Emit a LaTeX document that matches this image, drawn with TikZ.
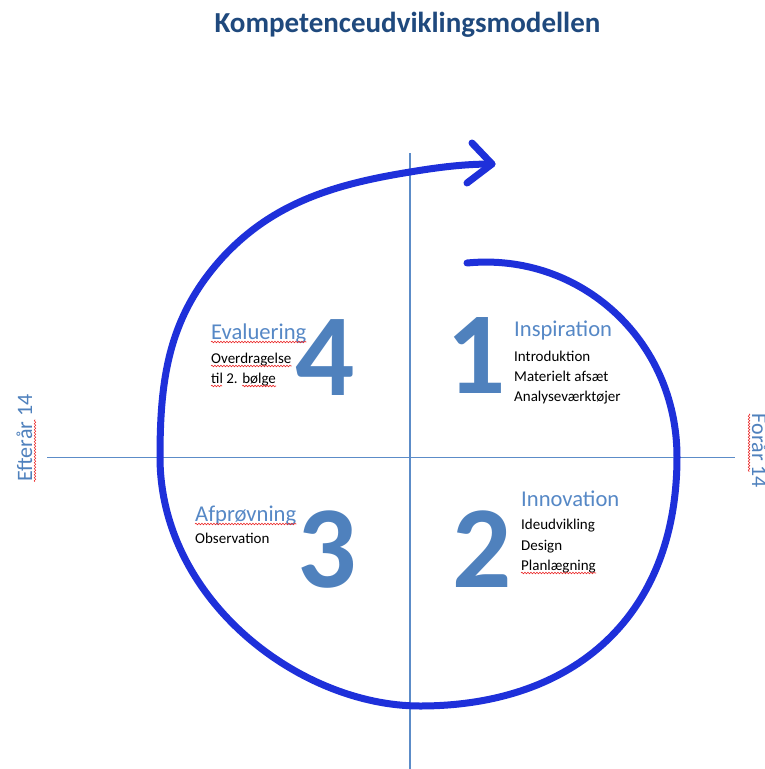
\documentclass[tikz,border=0pt]{standalone}
\usepackage{fontspec}
\setmainfont{Carlito}
\usetikzlibrary{decorations.pathmorphing,calc}

\definecolor{titleblue}{RGB}{31,73,125}
\definecolor{numblue}{RGB}{79,129,189}
\definecolor{headblue}{RGB}{86,136,198}
\definecolor{axisblue}{RGB}{92,140,200}
\definecolor{spiralblue}{RGB}{30,48,218}
\definecolor{spellred}{RGB}{235,40,40}

\tikzset{
  axisline/.style={draw=axisblue, line width=1.1pt},
  spiral/.style={draw=spiralblue, line width=7pt, line cap=round, line join=round},
  titletext/.style={anchor=base, inner sep=0pt, text=titleblue,
    font=\fontsize{29}{33}\selectfont\bfseries},
  heading/.style={anchor=base west, inner sep=0pt, text=headblue,
    font=\fontsize{22.6}{26}\selectfont},
  bodytext/.style={anchor=base west, inner sep=0pt, text=black,
    font=\fontsize{15}{18}\selectfont},
  bignum/.style={anchor=base, inner sep=0pt, text=numblue,
    font=\fontsize{117}{120}\selectfont\bfseries},
  sidetext/.style={anchor=base, inner sep=0pt, text=numblue,
    font=\fontsize{22}{26}\selectfont},
  squiggle/.style={draw=spellred, line width=0.6pt, decorate,
    decoration={snake, amplitude=0.8pt, segment length=3pt}},
}

\begin{document}
\begin{tikzpicture}[x=1pt,y=-1pt]
\useasboundingbox (0,0) rectangle (764,769);
\fill[white] (0,0) rectangle (764,769);

% title
\node[titletext] (title) at (407.5,32) {Kompetenceudviklingsmodellen};

% axes
\coordinate (vtop) at (410,153);
\coordinate (vbot) at (410,769);
\coordinate (hleft) at (47,457.5);
\coordinate (hright) at (735,457.5);
\draw[axisline] (vtop) -- (vbot);
\draw[axisline] (hleft) -- (hright);

% side labels
\node[sidetext, rotate=90] (autumn) at (32,438) {Efterår 14};
\node[sidetext, rotate=-90] (spring) at (752,451) {Forår 14};

% spiral: start inside quadrant 1, one turn clockwise, open arrowhead at the end
\coordinate (start) at (467,263);
\coordinate (east) at (677,457);
\coordinate (south) at (420,706);
\coordinate (west) at (160,457);
\coordinate (nw) at (223,257);
\coordinate (north) at (410,172);
\coordinate (tip) at (492,164);
\coordinate (barbA) at (472,143);
\coordinate (barbB) at (467,183);
\draw[spiral] (start)
  .. controls (580,252) and (677,340) .. (east)
  .. controls (677,615) and (575,706) .. (south)
  .. controls (300,706) and (160,600) .. (west)
  .. controls (160,377) and (169,316) .. (nw)
  .. controls (274,202) and (336,184) .. (north)
  .. controls (440,167) and (465,164) .. (tip);
\draw[spiral] (barbA) -- (tip) -- (barbB);

% quadrant numbers
\node[bignum] (n1) at (476.5,393) {1};
\node[bignum] (n2) at (482.5,587) {2};
\node[bignum] (n3) at (327.5,587) {3};
\node[bignum] (n4) at (325.5,395) {4};

% quadrant 1
\node[heading] (h1) at (514,336) {Inspiration};
\node[bodytext] (t1a) at (514,361) {Introduktion};
\node[bodytext] (t1b) at (514,381) {Materielt afsæt};
\node[bodytext] (t1c) at (514,401) {Analyseværktøjer};

% quadrant 2
\node[heading] (h2) at (521,506) {Innovation};
\node[bodytext] (t2a) at (521,529) {Ideudvikling};
\node[bodytext] (t2b) at (521,550) {Design};
\node[bodytext] (t2c) at (521,570) {Planlægning};

% quadrant 3
\node[heading] (h3) at (195,521) {Afprøvning};
\node[bodytext] (t3a) at (195,543) {Observation};

% quadrant 4
\node[heading] (h4) at (211,339) {Evaluering};
\node[bodytext] (t4a) at (211,363) {Overdragelse};
\node[bodytext] (t4b) at (211,383) {til 2. bølge};

% spell-check marks
\draw[squiggle] ([yshift=-3pt]h4.base west) -- ([yshift=-3pt]h4.base east);
\draw[squiggle] ([yshift=-3pt]t4a.base west) -- ([yshift=-3pt]t4a.base east);
\draw[squiggle] ([yshift=-3pt]t4b.base west) -- ([xshift=11pt,yshift=-3pt]t4b.base west);
\draw[squiggle] ([xshift=-34pt,yshift=-3pt]t4b.base east) -- ([yshift=-3pt]t4b.base east);
\draw[squiggle] ([yshift=-3pt]h3.base west) -- ([yshift=-3pt]h3.base east);
\draw[squiggle] ([yshift=-3pt]t2c.base west) -- ([yshift=-3pt]t2c.base east);
\draw[squiggle] ($(autumn.base west)+(3,0)$) -- ($(autumn.base west)+(3,-62)$);
\draw[squiggle] ($(spring.base west)+(-3,0)$) -- ($(spring.base west)+(-3,58)$);
\end{tikzpicture}
\end{document}
